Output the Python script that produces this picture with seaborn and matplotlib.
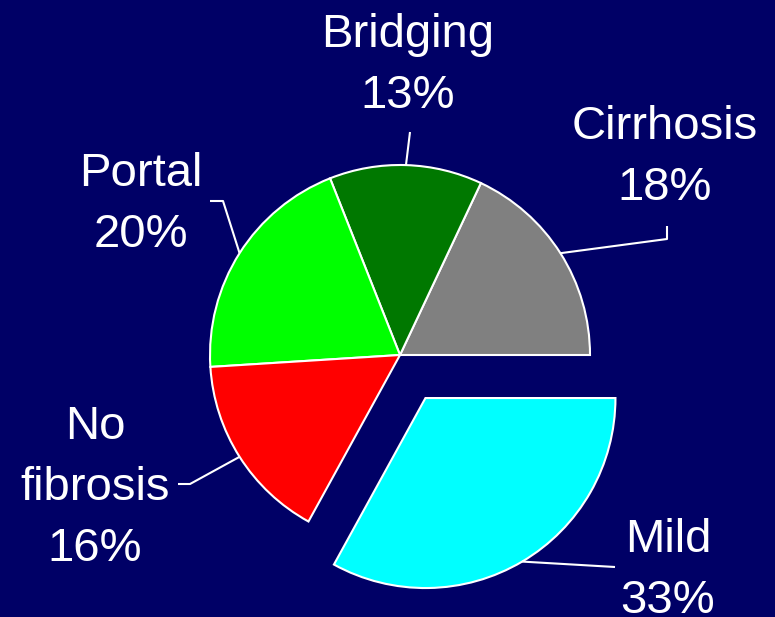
import numpy as np
import seaborn as sns
import matplotlib.pyplot as plt

# Data
categories = ["Cirrhosis", "Bridging", "Portal", "No\nfibrosis", "Mild"]
shares = [18, 13, 20, 16, 33]
colors = ["#808080", "#007800", "#00FF00", "#FF0000", "#00FFFF"]
exploded = [0, 0, 0, 0, 1]

bg = "#000066"

sns.set_theme(style="white")
plt.rcParams["font.family"] = ["Liberation Sans", "DejaVu Sans"]

W, H = 775, 617
fig = plt.figure(figsize=(W / 100, H / 100), dpi=100, facecolor=bg)
ax = fig.add_axes([0, 0, 1, 1])
ax.set_facecolor(bg)
ax.set_xlim(0, W)
ax.set_ylim(0, H)
ax.set_aspect("equal")
ax.axis("off")

# pie geometry in pixel space (y measured from the bottom)
cx, cy, r = 400, H - 355, 190
offset = 50

wedges, _ = ax.pie(shares, colors=colors, startangle=0, counterclock=True,
                   center=(cx, cy), radius=r,
                   explode=[e * offset for e in exploded],
                   wedgeprops=dict(edgecolor="white", linewidth=1.5))
ax.set_xlim(0, W)
ax.set_ylim(0, H)

# label anchors: (x center, first baseline from top), and leader elbow points
label_pos = {
    "Cirrhosis": (665, 139),
    "Bridging": (408, 47),
    "Portal": (141, 186),
    "No\nfibrosis": (95, 439),
    "Mild": (668, 552),
}
leader_pts = {
    "Cirrhosis": [(667, 239), (667, 226)],
    "Bridging": [(410, 132)],
    "Portal": [(223, 201), (210, 201)],
    "No\nfibrosis": [(190, 484), (178, 484)],
    "Mild": [(615, 567)],
}
line_step = 61

for w, cat, val in zip(wedges, categories, shares):
    theta = np.deg2rad((w.theta1 + w.theta2) / 2)
    wx, wy = w.center
    start = (wx + r * np.cos(theta), wy + r * np.sin(theta))
    pts = [start] + [(px, H - py) for px, py in leader_pts[cat]]
    xs, ys = zip(*pts)
    ax.plot(xs, ys, color="white", lw=1.5, solid_capstyle="butt")

    lx, ly = label_pos[cat]
    lines = cat.split("\n") + [f"{val}%"]
    for i, txt in enumerate(lines):
        ax.text(lx, H - (ly + i * line_step), txt, color="white", fontsize=34,
                ha="center", va="baseline")

plt.savefig("out.png", dpi=100, facecolor=bg)
